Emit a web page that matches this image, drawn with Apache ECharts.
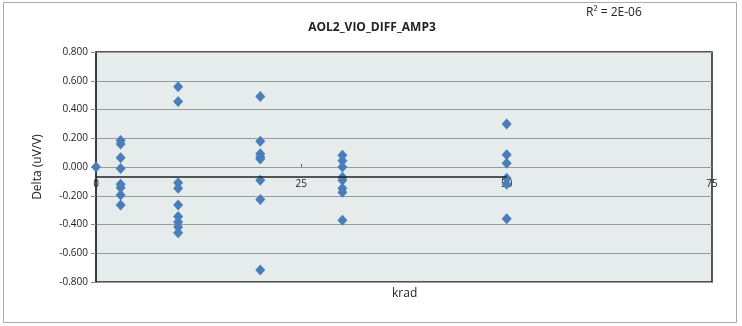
<!DOCTYPE html>
<html>
<head>
<meta charset="utf-8">
<script src="https://cdn.jsdelivr.net/npm/echarts@6/dist/echarts.min.js"></script>
<style>html,body{margin:0;padding:0;background:#fff}#c{width:742px;height:326px}</style>
</head>
<body>
<div id="c"></div>
<script>
// krad values for each column of points
const krad0 = [0];
const delta0 = [0.000];
const krad3 = [3, 3, 3, 3, 3, 3, 3, 3];
const delta3 = [0.185, 0.160, 0.065, -0.010, -0.120, -0.145, -0.195, -0.265];
const krad10 = [10, 10, 10, 10, 10, 10, 10, 10, 10];
const delta10 = [0.558, 0.455, -0.110, -0.148, -0.265, -0.345, -0.382, -0.418, -0.458];
const krad20 = [20, 20, 20, 20, 20, 20, 20, 20];
const delta20 = [0.490, 0.180, 0.092, 0.070, 0.055, -0.092, -0.226, -0.716];
const krad30 = [30, 30, 30, 30, 30, 30, 30, 30];
const delta30 = [0.082, 0.044, 0.000, -0.072, -0.092, -0.148, -0.176, -0.370];
const krad50 = [50, 50, 50, 50, 50, 50];
const delta50 = [0.300, 0.086, 0.026, -0.078, -0.120, -0.360];
const xTicks = [0, 25, 50, 75];
const yTicks = [-0.8, -0.6, -0.4, -0.2, 0, 0.2, 0.4, 0.6, 0.8];
const titleText = 'AOL2_VIO_DIFF_AMP3';
const r2Text = 'R² = 2E-06';
const xName = 'krad';
const yName = 'Delta (uV/V)';
const axisCross = -0.065;

const pts = [];
[[krad0, delta0], [krad3, delta3], [krad10, delta10], [krad20, delta20], [krad30, delta30], [krad50, delta50]]
  .forEach(([xs, ys]) => xs.forEach((x, i) => pts.push([x, ys[i]])));

const font = '"Open Sans", "Liberation Sans", sans-serif';
const chart = echarts.init(document.getElementById('c'), null, {renderer: 'canvas'});
chart.setOption({
  animation: false,
  backgroundColor: '#ffffff',
  title: {
    text: titleText, left: 367, top: 17, textAlign: 'center',
    textStyle: {fontFamily: font, fontSize: 12, fontWeight: 'bold', color: '#222'}
  },
  grid: {
    left: 96, right: 30, top: 52, bottom: 44, show: true,
    backgroundColor: '#e6ebeb', borderColor: '#222', borderWidth: 1.5
  },
  xAxis: {
    type: 'value', min: xTicks[0], max: xTicks[xTicks.length - 1], interval: 25,
    position: 'bottom', offset: -105,
    axisLine: {show: false},
    axisTick: {show: true, inside: true, length: 3, lineStyle: {color: '#666'}},
    axisLabel: {fontFamily: font, fontSize: 10, color: '#222', margin: 2},
    splitLine: {show: false}
  },
  yAxis: {
    type: 'value', min: yTicks[0], max: yTicks[yTicks.length - 1], interval: 0.2,
    name: yName, nameLocation: 'middle', nameGap: 52, nameRotate: 90,
    nameTextStyle: {fontFamily: font, fontSize: 12, color: '#222'},
    axisLine: {show: true, onZero: false, lineStyle: {color: '#333', width: 1.5}},
    axisTick: {show: true, length: 5, lineStyle: {color: '#888'}},
    axisLabel: {fontFamily: font, fontSize: 10, color: '#222', margin: 8,
      formatter: v => v.toFixed(3)},
    splitLine: {show: true, lineStyle: {color: '#9a9a9a', width: 1}}
  },
  series: [{
    type: 'scatter',
    data: pts,
    symbol: 'diamond',
    symbolSize: [10, 11],
    itemStyle: {color: '#4a7ebb', opacity: 1},
    markLine: {
      silent: true, symbol: 'none', animation: false,
      label: {show: false},
      lineStyle: {color: '#222', width: 1.5, type: 'solid'},
      data: [[{coord: [xTicks[0], axisCross]}, {coord: [xTicks[2], axisCross]}]]
    }
  }],
  graphic: [
    {type: 'rect', shape: {x: 3.5, y: 2.5, width: 733, height: 320},
     style: {fill: 'none', stroke: '#aaaaaa', lineWidth: 1}, z: -10, silent: true},
    {type: 'text', left: 586, top: 7,
     style: {text: r2Text, fontFamily: font, fontSize: 12, fill: '#222'}},
    {type: 'text', left: 392, top: 288,
     style: {text: xName, fontFamily: font, fontSize: 12, fill: '#222'}}
  ]
});
</script>
</body>
</html>
